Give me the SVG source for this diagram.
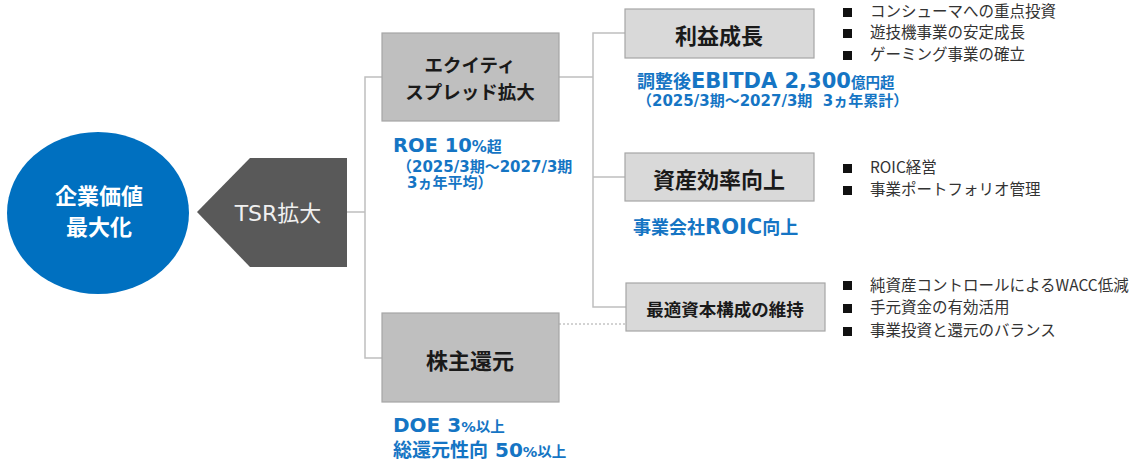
<svg xmlns="http://www.w3.org/2000/svg" width="1138" height="461" viewBox="0 0 1138 461">
<style>
.jp{font-family:'Noto Sans CJK JP',sans-serif}
.mix{font-family:'DejaVu Sans','Noto Sans CJK JP',sans-serif}
.boxD{fill:#bfbfbf;stroke:#a6a6a6;stroke-width:1.2}
.boxL{fill:#d9d9d9;stroke:#a6a6a6;stroke-width:1.2}
.lbl{font-family:'Noto Sans CJK JP',sans-serif;font-weight:bold;fill:#1a1a1a;text-anchor:middle;dominant-baseline:central}
.blue{font-family:'DejaVu Sans','Noto Sans CJK JP',sans-serif;font-weight:bold;fill:#1575c4;white-space:pre}
.bul{font-family:'Noto Sans CJK JP',sans-serif;font-size:15.5px;fill:#333333}
.sq{fill:#111111}
.conn{fill:none;stroke:#bfbfbf;stroke-width:1.5}
.dot{fill:none;stroke:#a6a6a6;stroke-width:1;stroke-dasharray:2 2}
</style>
<rect width="1138" height="461" fill="#ffffff"/>
<g id="connectors">
<path class="conn" d="M347,212 H365 M382,77 H365 V358 H382"/>
<path class="conn" d="M559,77 H593 M625,33 H593 V307 H626 M593,177 H625"/>
<path class="dot" d="M559,324 H626"/>
</g>
<g id="node-kigyou">
<ellipse cx="98" cy="213" rx="91" ry="81" fill="#0070c0"/>
<text class="jp" font-size="22" font-weight="bold" fill="#ffffff" text-anchor="middle"><tspan x="99" y="204">企業価値</tspan><tspan x="99" y="235">最大化</tspan></text>
</g>
<g id="node-tsr">
<polygon points="197,212 250,158 347,158 347,267 250,267" fill="#595959"/>
<text class="mix" x="278" y="213" font-size="22" fill="#f0f0f0" text-anchor="middle" dominant-baseline="central">TSR拡大</text>
</g>
<g id="node-equity">
<rect class="boxD" x="382" y="33" width="177" height="88"/>
<text class="lbl" font-size="18.5"><tspan x="470" y="63.5">エクイティ</tspan><tspan x="470" y="90.5">スプレッド拡大</tspan></text>
<text class="blue" x="393" y="152"><tspan font-size="19.5">ROE 10</tspan><tspan font-size="15">%超</tspan></text>
<text class="blue" font-size="15"><tspan x="397" y="172">（2025/3期～2027/3期</tspan><tspan x="407" y="188">3ヵ年平均）</tspan></text>
</g>
<g id="node-kabunushi">
<rect class="boxD" x="382" y="313" width="177" height="89"/>
<text class="lbl" x="470" y="359" font-size="22">株主還元</text>
<text class="blue" x="393" y="432"><tspan font-size="20">DOE 3</tspan><tspan font-size="14.5">%以上</tspan></text>
<text class="blue" x="393" y="457"><tspan font-size="19">総還元性向</tspan><tspan font-size="20"> 50</tspan><tspan font-size="14.5">%以上</tspan></text>
</g>
<g id="node-rieki">
<rect class="boxL" x="625" y="9" width="189" height="49"/>
<text class="lbl" x="719" y="34" font-size="22">利益成長</text>
<text class="blue" x="637" y="88"><tspan font-size="18">調整後</tspan><tspan font-size="21">EBITDA 2,300</tspan><tspan font-size="14.5">億円超</tspan></text>
<text class="blue" x="637" y="106" font-size="15">（2025/3期～2027/3期  3ヵ年累計）</text>
<rect class="sq" x="843" y="8" width="9" height="9"/>
<text class="bul" x="870" y="17">コンシューマへの重点投資</text>
<rect class="sq" x="843" y="29" width="9" height="9"/>
<text class="bul" x="870" y="38">遊技機事業の安定成長</text>
<rect class="sq" x="843" y="51" width="9" height="9"/>
<text class="bul" x="870" y="60">ゲーミング事業の確立</text>
</g>
<g id="node-shisan">
<rect class="boxL" x="625" y="153" width="189" height="48"/>
<text class="lbl" x="719" y="178" font-size="22">資産効率向上</text>
<text class="blue" x="633" y="234"><tspan font-size="18">事業会社</tspan><tspan font-size="21">ROIC</tspan><tspan font-size="18">向上</tspan></text>
<rect class="sq" x="843" y="164" width="9" height="9"/>
<text class="bul" x="870" y="173">ROIC経営</text>
<rect class="sq" x="843" y="186" width="9" height="9"/>
<text class="bul" x="870" y="195">事業ポートフォリオ管理</text>
</g>
<g id="node-saiteki">
<rect class="boxL" x="626" y="283" width="199" height="48"/>
<text class="lbl" x="725" y="308" font-size="17.5">最適資本構成の維持</text>
<rect class="sq" x="843" y="281" width="9" height="9"/>
<text class="bul" x="870" y="291">純資産コントロールによるWACC低減</text>
<rect class="sq" x="843" y="304" width="9" height="9"/>
<text class="bul" x="870" y="313">手元資金の有効活用</text>
<rect class="sq" x="843" y="327" width="9" height="9"/>
<text class="bul" x="870" y="336">事業投資と還元のバランス</text>
</g>
</svg>
